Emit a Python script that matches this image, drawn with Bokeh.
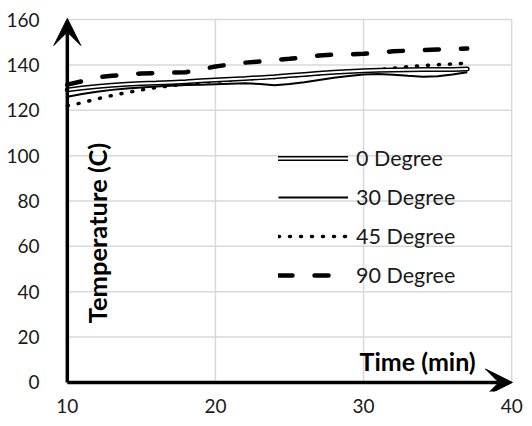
import numpy as np
from bokeh.plotting import figure
from bokeh.models import Range1d, Arrow, VeeHead, Label, Legend, LegendItem, FixedTicker
from bokeh.embed import file_html
from bokeh.resources import INLINE

time_min = [10, 11, 12, 13, 14, 15, 16, 17, 18, 19, 20, 21, 22, 23, 24, 25, 26, 27, 28, 29, 30, 31, 32, 33, 34, 35, 36, 37]
deg0 = [129.0, 129.8, 130.5, 131.0, 131.5, 131.8, 132.0, 132.3, 132.6, 133.0, 133.4, 133.7, 134.0, 134.4, 134.8, 135.3, 135.8, 136.3, 136.8, 137.1, 137.4, 137.6, 137.8, 137.9, 138.0, 138.0, 138.0, 138.2]
deg30 = [126.0, 127.2, 128.2, 129.0, 129.6, 130.1, 130.5, 130.8, 131.1, 131.3, 131.5, 131.7, 131.9, 131.6, 131.0, 131.6, 132.4, 133.4, 134.3, 135.1, 135.8, 136.0, 135.7, 135.2, 134.8, 135.0, 135.8, 136.8]
deg45 = [122.0, 123.3, 125.0, 126.5, 127.8, 129.0, 130.0, 130.8, 131.6, 132.3, 132.8, 133.3, 133.8, 134.1, 134.5, 135.0, 135.6, 136.0, 136.5, 137.0, 137.4, 137.9, 138.6, 139.2, 139.7, 140.1, 140.4, 140.8]
deg90 = [131.3, 132.8, 134.5, 135.2, 135.8, 136.2, 136.4, 136.6, 136.8, 138.0, 139.3, 140.2, 141.0, 141.5, 142.2, 142.7, 143.3, 144.2, 144.5, 144.7, 144.9, 145.5, 146.0, 146.3, 146.6, 146.8, 147.0, 147.2]

x_ticks = [10, 20, 30, 40]
y_ticks = [0, 20, 40, 60, 80, 100, 120, 140, 160]
series_labels = ["0 Degree", "30 Degree", "45 Degree", "90 Degree"]

FONT = "Lato"
x_min, x_max = x_ticks[0], x_ticks[-1]
y_min, y_max = y_ticks[0], y_ticks[-1]

p = figure(width=532, height=426, output_backend="svg", toolbar_location=None,
           x_range=Range1d(9, 41), y_range=Range1d(-4, 164),
           min_border_left=52, min_border_right=6, min_border_top=10, min_border_bottom=35)
p.outline_line_color = None
p.background_fill_color = "white"
p.xgrid.visible = False
p.ygrid.visible = False

for ax in (p.xaxis[0], p.yaxis[0]):
    ax.axis_line_color = None
    ax.major_tick_line_color = None
    ax.minor_tick_line_color = None
    ax.major_label_text_font = FONT
    ax.major_label_text_font_size = "19px"
    ax.major_label_text_color = "#1a1a1a"
p.xaxis[0].ticker = FixedTicker(ticks=x_ticks)
p.yaxis[0].ticker = FixedTicker(ticks=y_ticks)
p.xaxis[0].major_label_standoff = 1
p.yaxis[0].major_label_standoff = 7

# gridlines within the axes box
gy = y_ticks[1:]
p.segment(x0=[x_min] * len(gy), y0=gy, x1=[x_max] * len(gy), y1=gy,
          line_color="#d9d9d9", line_width=1.5)
gx = x_ticks[1:]
p.segment(x0=gx, y0=[y_min] * len(gx), x1=gx, y1=[y_max] * len(gx),
          line_color="#d9d9d9", line_width=1.5)

# series
r90 = p.line(time_min, deg90, line_color="black", line_width=4.5, line_dash="14 22", line_cap="round")
r45 = p.line(time_min, deg45, line_color="black", line_width=3.5, line_dash="1 10", line_cap="round")
r30 = p.line(time_min, deg30, line_color="black", line_width=2)
r0a = p.line(time_min, deg0, line_color="black", line_width=5, line_cap="round")
r0b = p.line(time_min, deg0, line_color="white", line_width=2, line_cap="round")

legend = Legend(items=[
    LegendItem(label=series_labels[0], renderers=[r0a, r0b]),
    LegendItem(label=series_labels[1], renderers=[r30]),
    LegendItem(label=series_labels[2], renderers=[r45]),
    LegendItem(label=series_labels[3], renderers=[r90]),
], location=(226, 103), glyph_width=70, glyph_height=20, label_height=20,
    spacing=13, padding=0, margin=0, label_standoff=8,
    background_fill_alpha=0, border_line_color=None,
    label_text_font=FONT, label_text_font_size="21.5px", label_text_color="#1a1a1a")
p.add_layout(legend)

# axes as arrows
p.add_layout(Arrow(end=VeeHead(size=27, fill_color="black", line_color="black", line_width=1),
                   x_start=x_min, y_start=y_min, x_end=x_min, y_end=160.5,
                   line_color="black", line_width=3.5))
p.add_layout(Arrow(end=VeeHead(size=27, fill_color="black", line_color="black", line_width=1),
                   x_start=x_min, y_start=y_min, x_end=40.05, y_end=y_min,
                   line_color="black", line_width=3.5))

p.add_layout(Label(x=33.65, y=9.3, text="Time (min)", text_font=FONT, text_font_size="25px",
                   text_font_style="bold", text_align="center", text_baseline="middle",
                   text_color="black"))
p.add_layout(Label(x=12.03, y=65.9, text="Temperature (C)", text_font=FONT, text_font_size="25.5px",
                   text_font_style="bold", text_align="center", text_baseline="middle",
                   angle=np.pi / 2, text_color="black"))

open("out.html", "w").write(file_html(p, INLINE))
